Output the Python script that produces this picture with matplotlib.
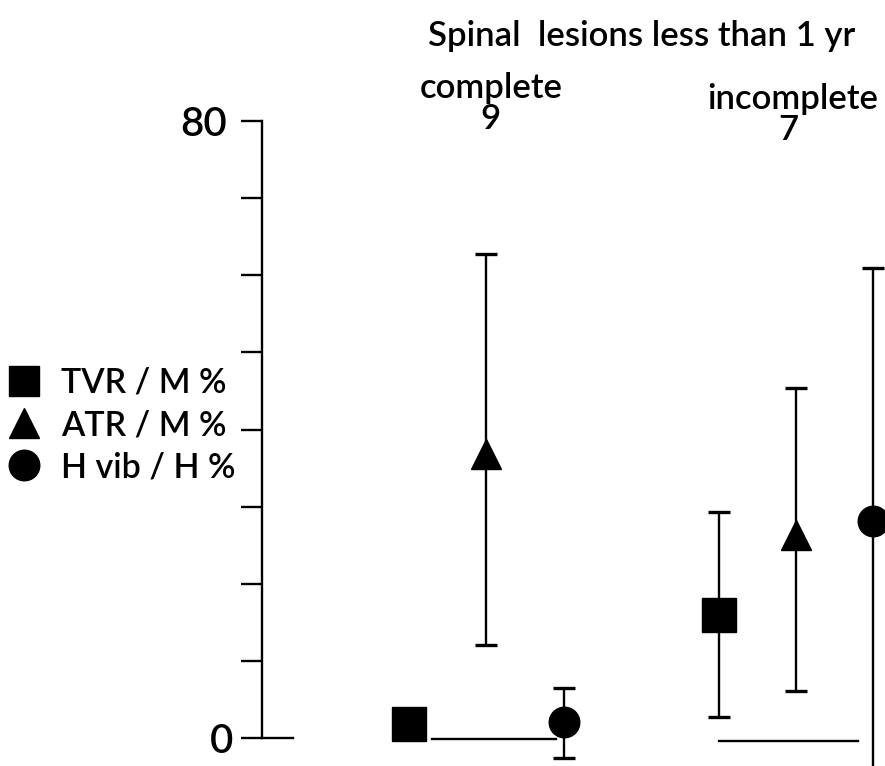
import matplotlib
matplotlib.use("Agg")
import matplotlib.pyplot as plt
from matplotlib.lines import Line2D

plt.rcParams['font.family'] = ['Lato', 'DejaVu Sans']
plt.rcParams['font.weight'] = 'semibold'

# ---- data ----
series = ["TVR / M %", "ATR / M %", "H vib / H %"]
markers = ["s", "^", "o"]
groups = ["complete", "incomplete"]
group_n = ["9", "7"]
# mean values, upper and lower limits per group (complete, incomplete)
means = {
    "TVR / M %":   [1.8, 16.0],
    "ATR / M %":   [36.8, 26.3],
    "H vib / H %": [2.1, 28.1],
}
upper = {
    "TVR / M %":   [None, 29.3],
    "ATR / M %":   [62.8, 45.4],
    "H vib / H %": [6.5, 61.0],
}
lower = {
    "TVR / M %":   [None, 2.7],
    "ATR / M %":   [12.1, 6.1],
    "H vib / H %": [-2.6, -6.0],
}
yticks = list(range(0, 81, 10))
ytick_labels = ["0", "", "", "", "", "", "", "", "80"]

W, H = 885, 766
fig = plt.figure(figsize=(W / 100, H / 100), dpi=100)
ax_left, ax_right = 262, 885
y0_px, y80_px = 738, 121
ax = fig.add_axes([ax_left / W, (H - y0_px) / H, (ax_right - ax_left) / W, (y0_px - y80_px) / H])
ax.set_ylim(0, 80)
ax.set_xlim(-1.9, 6.15)
ax.patch.set_alpha(0)

# positions: group g, series s -> g*4 + s
for si, name in enumerate(series):
    for gi in range(2):
        x = gi * 4 + si
        m = means[name][gi]
        up, lo = upper[name][gi], lower[name][gi]
        if up is not None:
            ax.errorbar([x], [m], yerr=[[m - lo], [up - m]], fmt='none', ecolor='black',
                        elinewidth=1.7, capsize=8, capthick=2.4, clip_on=False, zorder=2)
        ax.plot([x], [m], marker=markers[si], color='black',
                markersize={"s": 24, "^": 22, "o": 22}[markers[si]],
                linestyle='none', clip_on=False, zorder=3)

# baseline segments under each group
ax.plot([0.3, 1.9], [-0.15, -0.15], color='black', lw=1.7, clip_on=False)
ax.plot([4.0, 5.8], [-0.45, -0.45], color='black', lw=1.7, clip_on=False)

# axes styling
for s in ["top", "right", "bottom"]:
    ax.spines[s].set_visible(False)
ax.spines["left"].set_linewidth(1.7)
ax.spines["left"].set_bounds(0, 80)
ax.set_xticks([])
ax.set_yticks(yticks)
ax.set_yticklabels(ytick_labels, fontsize=29)
ax.tick_params(axis='y', direction='out', length=15, width=1.7, pad=6)
ax.yaxis.get_major_ticks()[-1].tick1line.set_markersize(5)
ax.yaxis.get_major_ticks()[-1].set_pad(10)
# zero line extension to the right of the axis
ax.plot([-1.9, -1.5], [0, 0], color='black', lw=1.7, clip_on=False)

# titles
fs = 25
fig.text(642 / W, 1 - 36 / H, "Spinal  lesions less than 1 yr", ha='center', va='center', fontsize=fs)
fig.text(491 / W, 1 - 88 / H, groups[0], ha='center', va='center', fontsize=fs)
fig.text(491 / W, 1 - 119 / H, group_n[0], ha='center', va='center', fontsize=fs)
fig.text(793 / W, 1 - 99 / H, groups[1], ha='center', va='center', fontsize=fs)
fig.text(788 / W, 1 - 130 / H, group_n[1], ha='center', va='center', fontsize=fs)

# legend
handles = [Line2D([], [], marker=mk, color='black', linestyle='none',
                  markersize={"s": 22, "^": 22, "o": 22}[mk]) for mk in markers]
fig.legend(handles, series, loc='upper left', bbox_to_anchor=(0.0, 1 - 360 / H),
           frameon=False, fontsize=24.5, handlelength=1.0, handletextpad=0.6,
           labelspacing=0.3, borderaxespad=0, borderpad=0.2)

fig.savefig("out.png", dpi=100)
